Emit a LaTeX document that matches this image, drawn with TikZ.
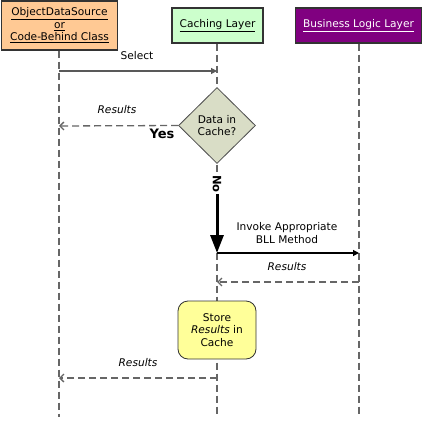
\documentclass[tikz,border=0pt]{standalone}
\usepackage{fontspec}
\setmainfont{DejaVu Sans}
\usepackage{tikz}
\usetikzlibrary{arrows.meta,shapes.geometric}

\definecolor{odsfill}{HTML}{FFC994}
\definecolor{cachefill}{HTML}{CCFFCC}
\definecolor{bllfill}{HTML}{800080}
\definecolor{decfill}{HTML}{D9DDC6}
\definecolor{storefill}{HTML}{FFFF99}
\definecolor{lifegray}{HTML}{666666}

\begin{document}
\begin{tikzpicture}[x=1pt, y=-1pt,
  font=\fontsize{10.6}{12.5}\selectfont,
  head/.style={draw=black!80, line width=1.2pt, align=center, inner sep=0pt},
  life/.style={draw=lifegray, line width=1.3pt, dash pattern=on 7pt off 4pt},
  reply/.style={life, -{Straight Barb[length=4pt,width=8pt]}},
  call/.style={line width=1.2pt, -{Triangle[length=6pt,width=6pt]}},
]
\useasboundingbox (0,0) rectangle (423,428);

\coordinate (odsEnd) at (59,417);
\coordinate (cacheEnd) at (217,417);
\coordinate (bllEnd) at (359,417);

% lifeline heads
\node[head, fill=odsfill, minimum width=116, minimum height=49] (ods) at (59.5,25.5)
  {\underline{ObjectDataSource}\\\underline{or}\\\underline{Code-Behind Class}};
\node[head, fill=cachefill, minimum width=91, minimum height=35] (cache) at (217.5,25.5)
  {\underline{Caching Layer}};
\node[head, fill=bllfill, text=white, minimum width=126, minimum height=35] (bll) at (358.5,25.5)
  {\underline{Business Logic Layer}};

% lifelines
\draw[life] (ods.south -| odsEnd) -- (odsEnd);
\draw[life] (cache.south -| cacheEnd) -- (cacheEnd);
\draw[life] (bll.south -| bllEnd) -- (bllEnd);

\coordinate (sel0) at (59,71);
\coordinate (sel1) at (217,71);
\coordinate (res0) at (59,126);
\coordinate (inv0) at (217,253);
\coordinate (inv1) at (359,253);
\coordinate (ret1) at (359,282);
\coordinate (ret0) at (217,282);
\coordinate (back1) at (217,378);
\coordinate (back0) at (59,378);

\draw[call, draw=black!65] (sel0) -- (sel1);
\node at (137,56) {Select};

\node[diamond, draw=black!70, line width=0.8pt, fill=decfill, aspect=1,
  minimum width=77, minimum height=76, inner sep=0pt, align=center] (dec) at (217,125.5)
  {Data in\\Cache?};

\draw[reply] (dec.west) -- (res0);
\node at (117,110) {\itshape Results};
\node at (162,134) {\fontsize{13}{15}\selectfont\bfseries Yes};

\node[fill=white, rotate=-90, inner sep=1pt] (no) at (217,184)
  {\fontsize{11.5}{12}\selectfont\bfseries No};
\draw[line width=3pt, -{Triangle[length=18pt,width=13pt]}] (no.east) -- (inv0);

\draw[call] (inv0) -- (inv1);
\node[align=center] at (287,233) {Invoke Appropriate\\BLL Method};
\draw[reply] (ret1) -- (ret0);
\node at (287,267) {\itshape Results};

\node[draw=black!80, line width=0.8pt, fill=storefill, rounded corners=10pt,
  minimum width=78, minimum height=58, align=center, inner sep=0pt] (store) at (217,330)
  {Store\\\textit{Results} in\\Cache};

\draw[reply] (back1) -- (back0);
\node at (138,363) {\itshape Results};

\end{tikzpicture}
\end{document}
